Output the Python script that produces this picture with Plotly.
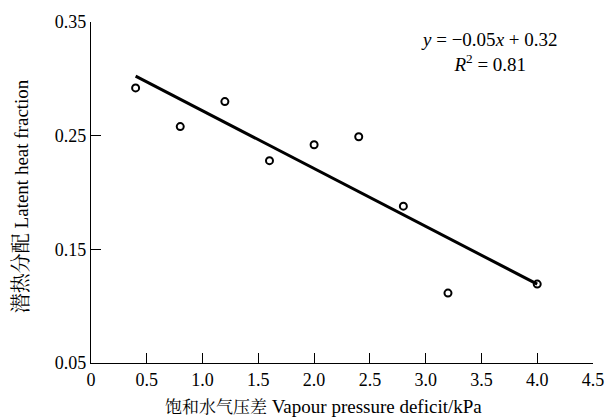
import plotly.graph_objects as go

vpd = [0.4, 0.8, 1.2, 1.6, 2.0, 2.4, 2.8, 3.2, 4.0]
latent_frac = [0.292, 0.258, 0.280, 0.228, 0.242, 0.249, 0.188, 0.1115, 0.1194]
fit_x = [0.4, 4.0]
fit_y = [0.3024, 0.1194]
x_ticks = [0, 0.5, 1.0, 1.5, 2.0, 2.5, 3.0, 3.5, 4.0, 4.5]
x_ticklabels = ["0", "0.5", "1.0", "1.5", "2.0", "2.5", "3.0", "3.5", "4.0", "4.5"]
y_ticks = [0.05, 0.15, 0.25, 0.35]
y_ticklabels = ["0.05", "0.15", "0.25", "0.35"]
eq_text = "<i>y</i> = −0.05<i>x</i> + 0.32<br><i>R</i><sup>2</sup> = 0.81"
x_title = '<span style="font-size:17px">饱和水气压差</span> Vapour pressure deficit/kPa'
y_title = '<span style="font-size:20px">潜热分配</span> Latent heat fraction'

FONT = "Liberation Serif, Times New Roman, Noto Serif CJK SC, Noto Sans CJK SC, serif"

fig = go.Figure()
fig.add_trace(go.Scatter(x=fit_x, y=fit_y, mode="lines",
                         line=dict(color="black", width=3), showlegend=False))
fig.add_trace(go.Scatter(x=vpd, y=latent_frac, mode="markers",
                         marker=dict(symbol="circle-open", size=7, color="black",
                                     line=dict(width=2, color="black")),
                         showlegend=False))

fig.add_annotation(x=0.793, y=0.912, xref="paper", yref="paper", text=eq_text,
                   showarrow=False, xanchor="center", yanchor="middle", align="center",
                   font=dict(family=FONT, size=19, color="black"))
fig.add_annotation(x=0.463, y=-0.129, xref="paper", yref="paper", text=x_title,
                   showarrow=False, xanchor="center", yanchor="middle",
                   font=dict(family=FONT, size=19, color="black"))
fig.add_annotation(x=-0.139, y=0.490, xref="paper", yref="paper", text=y_title,
                   showarrow=False, xanchor="center", yanchor="middle", textangle=-90,
                   font=dict(family=FONT, size=19, color="black"))

fig.update_layout(
    width=607, height=409,
    margin=dict(l=83, r=22, t=14, b=54),
    paper_bgcolor="white", plot_bgcolor="white",
    font=dict(family=FONT, size=18, color="black"),
    xaxis=dict(range=[0, 4.5], tickvals=x_ticks, ticktext=x_ticklabels,
               ticks="inside", ticklen=10, tickwidth=1, tickcolor="black",
               tickfont=dict(family=FONT, size=18), automargin=False,
               showline=True, linecolor="black", linewidth=1.3,
               showgrid=False, zeroline=False),
    yaxis=dict(range=[0.05, 0.35], tickvals=y_ticks, ticktext=y_ticklabels,
               ticks="inside", ticklen=10, tickwidth=1, tickcolor="black",
               tickfont=dict(family=FONT, size=18), automargin=False,
               showline=True, linecolor="black", linewidth=1.3,
               showgrid=False, zeroline=False),
)

fig.write_html("out.html")
